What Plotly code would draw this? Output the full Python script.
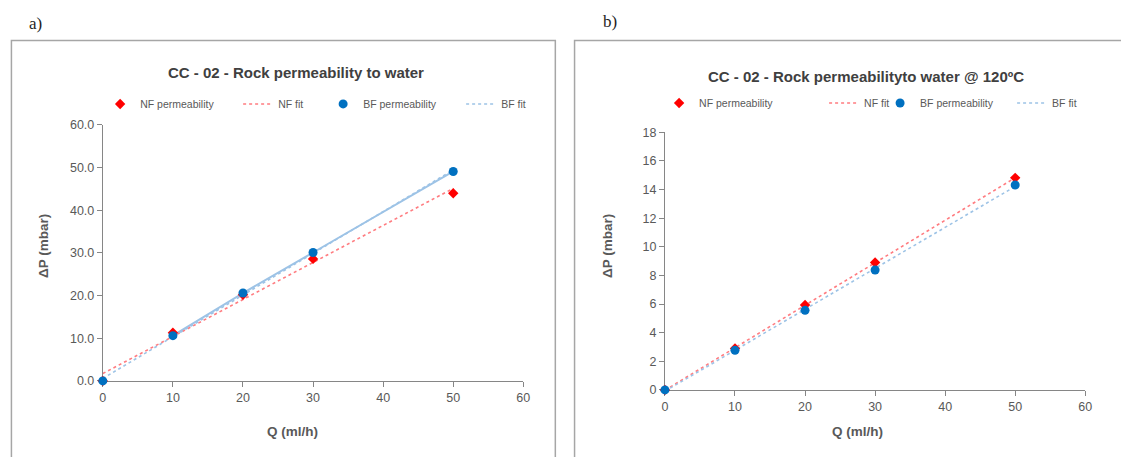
import numpy as np
import plotly.graph_objects as go

# ---------------- data ----------------
q_flow = [0, 10, 20, 30, 50]                 # Q (ml/h)

a_nf_dp = [0.0, 11.3, 20.2, 28.6, 44.0]      # panel a, NF permeability (mbar)
a_bf_dp = [0.0, 10.6, 20.6, 30.1, 49.1]      # panel a, BF permeability (mbar)

b_nf_dp = [0.0, 2.9, 5.93, 8.9, 14.82]       # panel b, NF permeability (mbar)
b_bf_dp = [0.0, 2.77, 5.56, 8.38, 14.32]     # panel b, BF permeability (mbar)

title_a = "CC - 02 - Rock permeability to water"
title_b = "CC - 02 - Rock permeabilityto water @ 120ºC"
legend_names = ["NF permeability", "NF fit", "BF permeability", "BF fit"]

# ---------------- style ----------------
W, H = 1121, 457
RED = "#FF0000"
RED_FIT = "#FF7C80"
BLUE = "#0070C0"
BLUE_FIT = "#9DC3E6"
GREY_TXT = "#595959"
AX_COL = "#868686"
FONT = "Liberation Sans, Arial, sans-serif"


def px_x(v):
    return v / W


def px_y(v):
    return 1 - v / H


def fit_line(x, y):
    slope, inter = np.polyfit(x, y, 1)
    xs = np.array([min(x), max(x)], dtype=float)
    return xs, inter + slope * xs


fig = go.Figure()


def add_panel(xa, ya, leg, nf, bf, widths, bf_solid=False):
    nf_fx, nf_fy = fit_line(q_flow, nf)
    bf_fx, bf_fy = fit_line(q_flow, bf)
    if bf_solid:
        fig.add_trace(go.Scatter(x=q_flow[1:], y=bf[1:], mode="lines",
                                 line=dict(color=BLUE_FIT, width=2),
                                 showlegend=False, hoverinfo="skip",
                                 xaxis=xa, yaxis=ya))
    fig.add_trace(go.Scatter(x=nf_fx, y=nf_fy, mode="lines", name=legend_names[1],
                             line=dict(color=RED_FIT, width=1.6, dash="dot"),
                             legend=leg, legendrank=2, legendwidth=widths[1],
                             xaxis=xa, yaxis=ya))
    fig.add_trace(go.Scatter(x=bf_fx, y=bf_fy, mode="lines", name=legend_names[3],
                             line=dict(color=BLUE_FIT, width=1.6, dash="dot"),
                             legend=leg, legendrank=4, legendwidth=widths[3],
                             xaxis=xa, yaxis=ya))
    fig.add_trace(go.Scatter(x=q_flow, y=nf, mode="markers", name=legend_names[0],
                             marker=dict(symbol="diamond", size=8, color=RED),
                             cliponaxis=False,
                             legend=leg, legendrank=1, legendwidth=widths[0],
                             xaxis=xa, yaxis=ya))
    fig.add_trace(go.Scatter(x=q_flow, y=bf, mode="markers", name=legend_names[2],
                             marker=dict(symbol="circle", size=9, color=BLUE),
                             cliponaxis=False,
                             legend=leg, legendrank=3, legendwidth=widths[2],
                             xaxis=xa, yaxis=ya))


add_panel("x", "y", "legend", a_nf_dp, a_bf_dp, [93, 40, 93, 40], bf_solid=True)
add_panel("x2", "y2", "legend2", b_nf_dp, b_bf_dp, [120, 11, 87, 40])

axis_common = dict(showline=True, linecolor=AX_COL, linewidth=1, ticks="outside",
                   ticklen=5, tickcolor=AX_COL, showgrid=False, zeroline=False,
                   tickfont=dict(family=FONT, size=12.5, color=GREY_TXT),
                   fixedrange=True, layer="below traces")

fig.update_layout(
    width=W, height=H, autosize=False,
    margin=dict(l=0, r=0, t=0, b=0, pad=0),
    paper_bgcolor="white", plot_bgcolor="white",
    xaxis=dict(domain=[px_x(100.7), px_x(525)], range=[0, 60], dtick=10,
               anchor="y", **axis_common),
    yaxis=dict(domain=[px_y(385.7), px_y(121.7)], range=[0, 60], dtick=10,
               tickformat=".1f", anchor="x", **axis_common),
    xaxis2=dict(domain=[px_x(667.9), px_x(1092)], range=[0, 60], dtick=10,
                anchor="y2", **axis_common),
    yaxis2=dict(domain=[px_y(395), px_y(129.3)], range=[0, 18], dtick=2,
                anchor="x2", **axis_common),
    legend=dict(orientation="h", x=px_x(98), xanchor="left", y=px_y(100),
                yanchor="middle", bgcolor="rgba(0,0,0,0)", borderwidth=0,
                font=dict(family=FONT, size=10.5, color=GREY_TXT),
                traceorder="normal", itemwidth=30),
    legend2=dict(orientation="h", x=px_x(662), xanchor="left", y=px_y(99),
                 yanchor="middle", bgcolor="rgba(0,0,0,0)", borderwidth=0,
                 font=dict(family=FONT, size=10.5, color=GREY_TXT),
                 traceorder="normal", itemwidth=30),
    showlegend=True,
)

# panel borders
fig.add_shape(type="rect", xref="paper", yref="paper",
              x0=px_x(8.5), x1=px_x(557.3), y0=px_y(470), y1=px_y(34.5),
              line=dict(color="#A6A6A6", width=1.5), fillcolor="rgba(0,0,0,0)")
fig.add_shape(type="rect", xref="paper", yref="paper",
              x0=px_x(576.7), x1=px_x(1140), y0=px_y(470), y1=px_y(34.5),
              line=dict(color="#A6A6A6", width=1.5), fillcolor="rgba(0,0,0,0)")

ann = []


def add_text(text, x, y, size, color, family=FONT, angle=0):
    ann.append(dict(text=text, x=px_x(x), y=px_y(y), xref="paper", yref="paper",
                    xanchor="center", yanchor="middle", showarrow=False,
                    textangle=angle, font=dict(family=family, size=size, color=color)))


# panel letters
add_text("a)", 33, 17, 17, "#1F1F1F", family="Liberation Serif, serif")
add_text("b)", 612, 15, 17, "#1F1F1F", family="Liberation Serif, serif")
# chart titles
add_text("<b>" + title_a + "</b>", 296, 68, 15, "#404040")
add_text("<b>" + title_b + "</b>", 871, 72, 15, "#404040")
# axis titles
for xt, yt in [(292, 438), (862, 438)]:
    add_text("<b>Q (ml/h)</b>", xt, yt, 13.5, GREY_TXT)
for xt, yt in [(41, 247), (610, 247)]:
    add_text("<b>ΔP (mbar)</b>", xt, yt, 13.5, GREY_TXT, angle=-90)
fig.update_layout(annotations=ann)

fig.write_html("out.html", config={"responsive": False, "displayModeBar": False})
